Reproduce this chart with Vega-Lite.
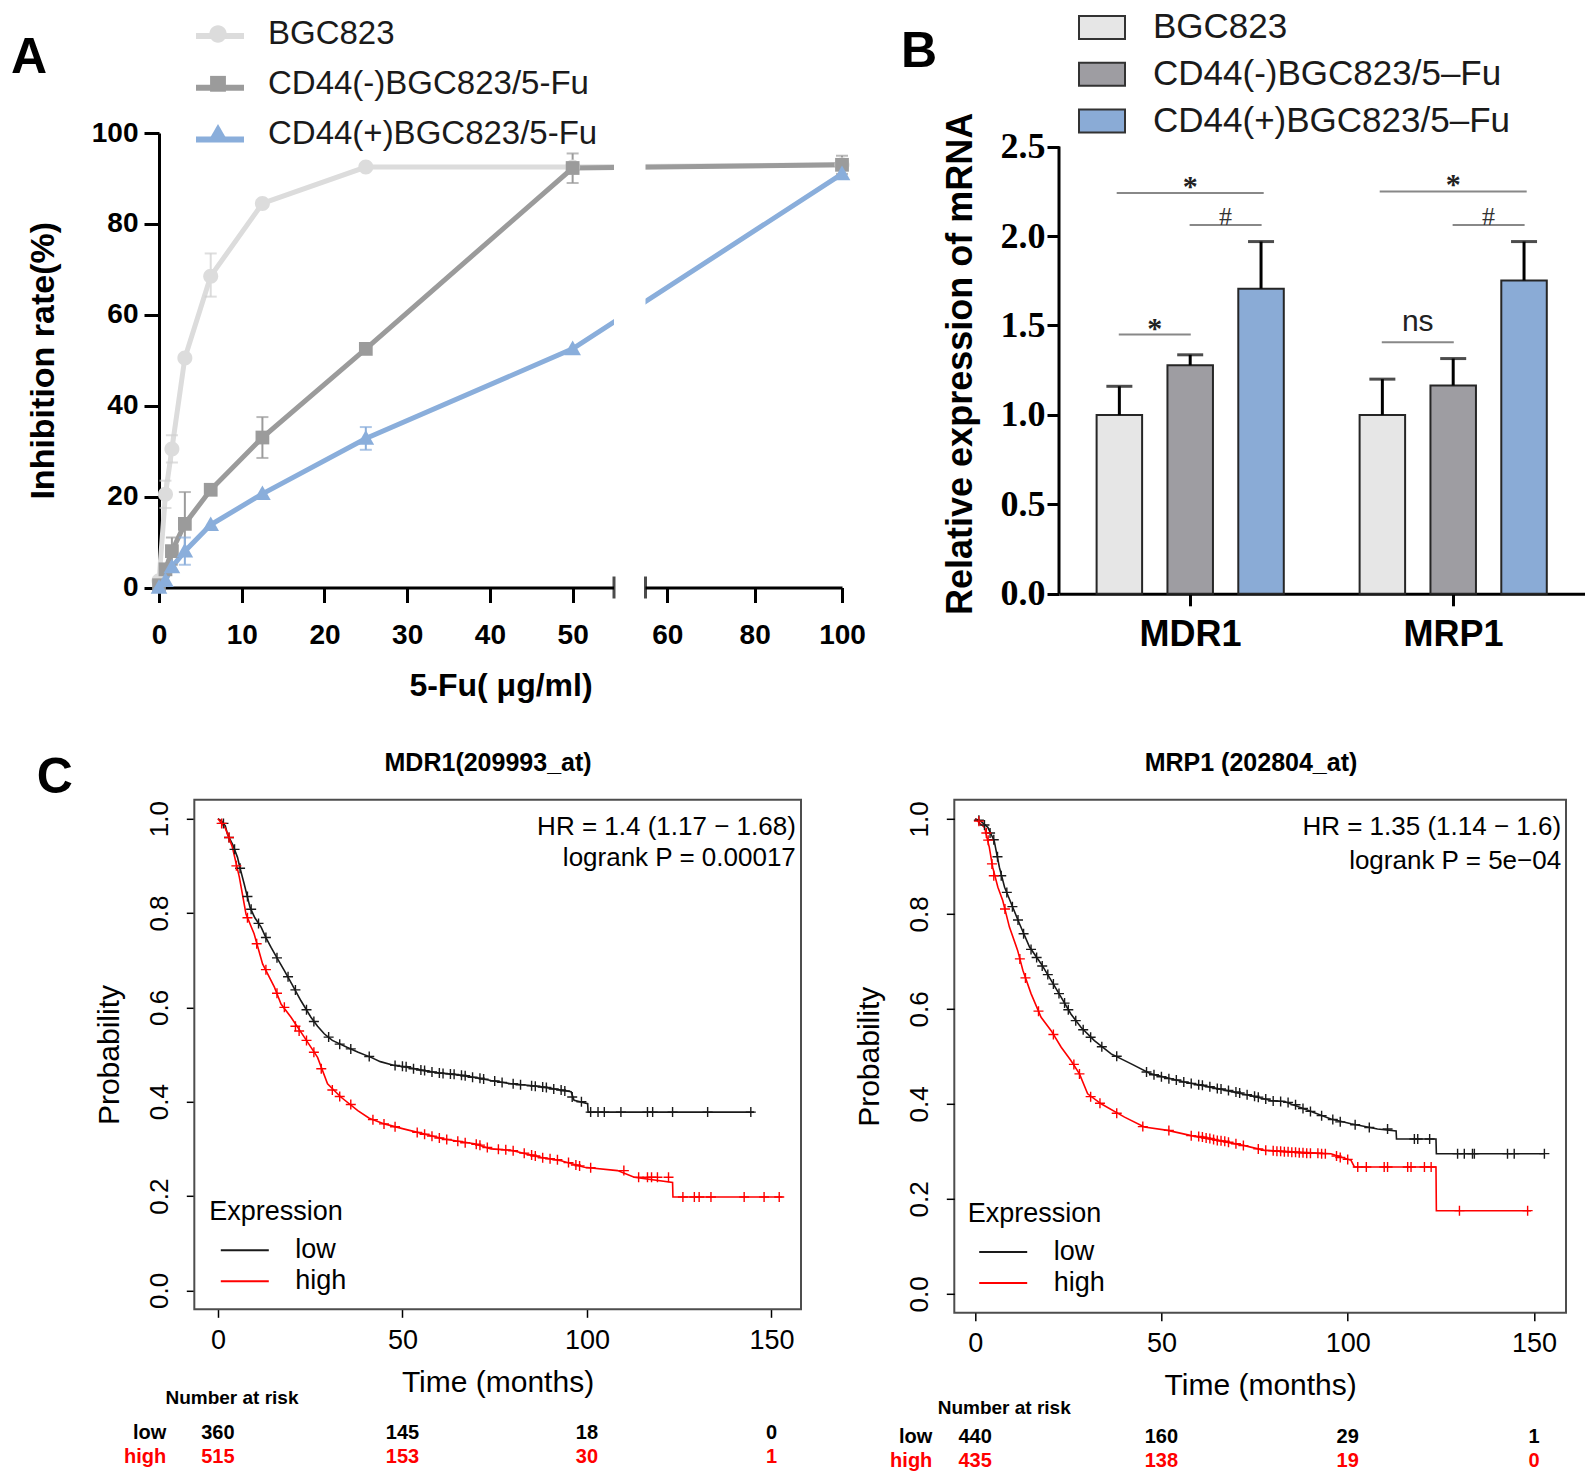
{
"$schema": "https://vega.github.io/schema/vega-lite/v6.json",
"background": "white",
"padding": {"left": 10, "top": 3, "right": 0, "bottom": 0},
"autosize": {"type": "pad"},
"config": {
  "view": {"stroke": null},
  "font": "Liberation Sans",
  "axis": {"grid": false, "domainColor": "black", "tickColor": "black", "labelColor": "black", "titleColor": "black", "labelFont": "Liberation Sans", "titleFont": "Liberation Sans"},
  "legend": {"labelColor": "black", "titleColor": "black", "labelFont": "Liberation Sans", "titleFont": "Liberation Sans"},
  "title": {"color": "black", "font": "Liberation Sans"}
},
"datasets": {
  "inhib": [
    {"series":"BGC823","conc":0,"rate":1.5},
    {"series":"BGC823","conc":0.78,"rate":20.5,"lo":17.5,"hi":23.5},
    {"series":"BGC823","conc":1.56,"rate":30.5,"lo":27.5,"hi":33.5},
    {"series":"BGC823","conc":3.125,"rate":50.5},
    {"series":"BGC823","conc":6.25,"rate":68.5,"lo":64,"hi":73.5},
    {"series":"BGC823","conc":12.5,"rate":84.5},
    {"series":"BGC823","conc":25,"rate":92.5},
    {"series":"BGC823","conc":50,"rate":92.5},
    {"series":"BGC823","conc":100,"rate":93},
    {"series":"CD44(-)BGC823/5-Fu","conc":0,"rate":0.5},
    {"series":"CD44(-)BGC823/5-Fu","conc":0.78,"rate":4},
    {"series":"CD44(-)BGC823/5-Fu","conc":1.56,"rate":8,"lo":5,"hi":11},
    {"series":"CD44(-)BGC823/5-Fu","conc":3.125,"rate":14,"lo":7,"hi":21},
    {"series":"CD44(-)BGC823/5-Fu","conc":6.25,"rate":21.5},
    {"series":"CD44(-)BGC823/5-Fu","conc":12.5,"rate":33,"lo":28.5,"hi":37.5},
    {"series":"CD44(-)BGC823/5-Fu","conc":25,"rate":52.5},
    {"series":"CD44(-)BGC823/5-Fu","conc":50,"rate":92.3,"lo":89,"hi":95.5},
    {"series":"CD44(-)BGC823/5-Fu","conc":100,"rate":93,"lo":91,"hi":95},
    {"series":"CD44(+)BGC823/5-Fu","conc":0,"rate":0},
    {"series":"CD44(+)BGC823/5-Fu","conc":0.78,"rate":1.5},
    {"series":"CD44(+)BGC823/5-Fu","conc":1.56,"rate":4.5},
    {"series":"CD44(+)BGC823/5-Fu","conc":3.125,"rate":8,"lo":5,"hi":11},
    {"series":"CD44(+)BGC823/5-Fu","conc":6.25,"rate":13.8},
    {"series":"CD44(+)BGC823/5-Fu","conc":12.5,"rate":20.6},
    {"series":"CD44(+)BGC823/5-Fu","conc":25,"rate":32.8,"lo":30.3,"hi":35.3},
    {"series":"CD44(+)BGC823/5-Fu","conc":50,"rate":52.5},
    {"series":"CD44(+)BGC823/5-Fu","conc":100,"rate":91}
  ],
  "breaks": [{"from":55,"to":55.001}],
  "letters": [{"letter":"A"},{"letter":"B"},{"letter":"C"}],
  "mrna": [
    {"gene":"MDR1","group":"BGC823","value":1.0,"hi":1.16},
    {"gene":"MDR1","group":"CD44(-)BGC823/5–Fu","value":1.278,"hi":1.336},
    {"gene":"MDR1","group":"CD44(+)BGC823/5–Fu","value":1.706,"hi":1.969},
    {"gene":"MRP1","group":"BGC823","value":1.0,"hi":1.2},
    {"gene":"MRP1","group":"CD44(-)BGC823/5–Fu","value":1.165,"hi":1.315},
    {"gene":"MRP1","group":"CD44(+)BGC823/5–Fu","value":1.752,"hi":1.969}
  ],
  "sig": [
    {"gene":"MDR1","at":"CD44(-)BGC823/5–Fu","y":2.241,"label":"*","span":"long"},
    {"gene":"MDR1","at":"m2","y":2.062,"label":"#","span":"short"},
    {"gene":"MDR1","at":"m1","y":1.449,"label":"*","span":"short"},
    {"gene":"MRP1","at":"CD44(-)BGC823/5–Fu","y":2.249,"label":"*","span":"long"},
    {"gene":"MRP1","at":"m2","y":2.062,"label":"#","span":"short"},
    {"gene":"MRP1","at":"m1","y":1.406,"label":"ns","span":"short"}
  ],
  "notes": [
    {"p":"MDR1","ttl":"MDR1(209993_at)","hr":"HR = 1.4 (1.17 − 1.68)","lr":"logrank P = 0.00017","nar":"Number at risk"},
    {"p":"MRP1","ttl":"MRP1 (202804_at)","hr":"HR = 1.35 (1.14 − 1.6)","lr":"logrank P = 5e−04","nar":"Number at risk"}
  ],
  "risk": [
    {"p":"MDR1","e":"low","t":0,"n":360},{"p":"MDR1","e":"low","t":50,"n":145},{"p":"MDR1","e":"low","t":100,"n":18},{"p":"MDR1","e":"low","t":150,"n":0},
    {"p":"MDR1","e":"high","t":0,"n":515},{"p":"MDR1","e":"high","t":50,"n":153},{"p":"MDR1","e":"high","t":100,"n":30},{"p":"MDR1","e":"high","t":150,"n":1},
    {"p":"MRP1","e":"low","t":0,"n":440},{"p":"MRP1","e":"low","t":50,"n":160},{"p":"MRP1","e":"low","t":100,"n":29},{"p":"MRP1","e":"low","t":150,"n":1},
    {"p":"MRP1","e":"high","t":0,"n":435},{"p":"MRP1","e":"high","t":50,"n":138},{"p":"MRP1","e":"high","t":100,"n":19},{"p":"MRP1","e":"high","t":150,"n":0}
  ],
  "km": [
    {"p":"MDR1","e":"low","t":0,"s":1},{"p":"MDR1","e":"low","t":1,"s":0.995},{"p":"MDR1","e":"low","t":2,"s":0.985},{"p":"MDR1","e":"low","t":2.6,"s":0.967},{"p":"MDR1","e":"low","t":4,"s":0.945},{"p":"MDR1","e":"low","t":5.3,"s":0.918},{"p":"MDR1","e":"low","t":6,"s":0.895},{"p":"MDR1","e":"low","t":7.1,"s":0.862},{"p":"MDR1","e":"low","t":8.7,"s":0.812},{"p":"MDR1","e":"low","t":10,"s":0.79},{"p":"MDR1","e":"low","t":11.7,"s":0.77},{"p":"MDR1","e":"low","t":13,"s":0.748},{"p":"MDR1","e":"low","t":14.4,"s":0.727},{"p":"MDR1","e":"low","t":16,"s":0.705},{"p":"MDR1","e":"low","t":18,"s":0.678},{"p":"MDR1","e":"low","t":20,"s":0.65},{"p":"MDR1","e":"low","t":22.5,"s":0.614},{"p":"MDR1","e":"low","t":25.2,"s":0.579},{"p":"MDR1","e":"low","t":27,"s":0.56},{"p":"MDR1","e":"low","t":28.8,"s":0.544},{"p":"MDR1","e":"low","t":31,"s":0.53},{"p":"MDR1","e":"low","t":35.1,"s":0.515},{"p":"MDR1","e":"low","t":38,"s":0.505},{"p":"MDR1","e":"low","t":41.5,"s":0.494},{"p":"MDR1","e":"low","t":44,"s":0.485},{"p":"MDR1","e":"low","t":47.8,"s":0.477},{"p":"MDR1","e":"low","t":52,"s":0.472},{"p":"MDR1","e":"low","t":55.9,"s":0.466},{"p":"MDR1","e":"low","t":60,"s":0.461},{"p":"MDR1","e":"low","t":65,"s":0.457},{"p":"MDR1","e":"low","t":70,"s":0.451},{"p":"MDR1","e":"low","t":74,"s":0.445},{"p":"MDR1","e":"low","t":79.4,"s":0.438},{"p":"MDR1","e":"low","t":84,"s":0.435},{"p":"MDR1","e":"low","t":88.4,"s":0.431},{"p":"MDR1","e":"low","t":92,"s":0.426},{"p":"MDR1","e":"low","t":95.7,"s":0.421},{"p":"MDR1","e":"low","t":96.5,"s":0.403},{"p":"MDR1","e":"low","t":100.2,"s":0.396},{"p":"MDR1","e":"low","t":100.3,"s":0.378},{"p":"MDR1","e":"low","t":145.3,"s":0.378},
    {"p":"MDR1","e":"high","t":0,"s":1},{"p":"MDR1","e":"high","t":2,"s":0.98},{"p":"MDR1","e":"high","t":3.9,"s":0.94},{"p":"MDR1","e":"high","t":5.8,"s":0.876},{"p":"MDR1","e":"high","t":7.6,"s":0.798},{"p":"MDR1","e":"high","t":9.8,"s":0.756},{"p":"MDR1","e":"high","t":12.1,"s":0.692},{"p":"MDR1","e":"high","t":15.3,"s":0.643},{"p":"MDR1","e":"high","t":17.1,"s":0.607},{"p":"MDR1","e":"high","t":19.8,"s":0.579},{"p":"MDR1","e":"high","t":23.4,"s":0.537},{"p":"MDR1","e":"high","t":27,"s":0.494},{"p":"MDR1","e":"high","t":29.7,"s":0.438},{"p":"MDR1","e":"high","t":33.3,"s":0.41},{"p":"MDR1","e":"high","t":37.9,"s":0.381},{"p":"MDR1","e":"high","t":41,"s":0.365},{"p":"MDR1","e":"high","t":45.1,"s":0.353},{"p":"MDR1","e":"high","t":50,"s":0.343},{"p":"MDR1","e":"high","t":54.1,"s":0.335},{"p":"MDR1","e":"high","t":61.3,"s":0.321},{"p":"MDR1","e":"high","t":69.5,"s":0.311},{"p":"MDR1","e":"high","t":74,"s":0.3},{"p":"MDR1","e":"high","t":79.4,"s":0.297},{"p":"MDR1","e":"high","t":87.5,"s":0.282},{"p":"MDR1","e":"high","t":93,"s":0.275},{"p":"MDR1","e":"high","t":99.3,"s":0.261},{"p":"MDR1","e":"high","t":108.3,"s":0.254},{"p":"MDR1","e":"high","t":112.8,"s":0.24},{"p":"MDR1","e":"high","t":123.2,"s":0.229},{"p":"MDR1","e":"high","t":123.3,"s":0.198},{"p":"MDR1","e":"high","t":153,"s":0.198},
    {"p":"MRP1","e":"low","t":0,"s":1},{"p":"MRP1","e":"low","t":1.5,"s":0.995},{"p":"MRP1","e":"low","t":3.4,"s":0.982},{"p":"MRP1","e":"low","t":5.1,"s":0.954},{"p":"MRP1","e":"low","t":6.5,"s":0.898},{"p":"MRP1","e":"low","t":7.9,"s":0.856},{"p":"MRP1","e":"low","t":9.7,"s":0.821},{"p":"MRP1","e":"low","t":11.9,"s":0.779},{"p":"MRP1","e":"low","t":14.6,"s":0.73},{"p":"MRP1","e":"low","t":17.7,"s":0.695},{"p":"MRP1","e":"low","t":20.4,"s":0.66},{"p":"MRP1","e":"low","t":23.1,"s":0.624},{"p":"MRP1","e":"low","t":25.7,"s":0.589},{"p":"MRP1","e":"low","t":28.4,"s":0.561},{"p":"MRP1","e":"low","t":32,"s":0.533},{"p":"MRP1","e":"low","t":36.5,"s":0.505},{"p":"MRP1","e":"low","t":41.9,"s":0.484},{"p":"MRP1","e":"low","t":47.2,"s":0.463},{"p":"MRP1","e":"low","t":56.2,"s":0.446},{"p":"MRP1","e":"low","t":65.1,"s":0.432},{"p":"MRP1","e":"low","t":74.1,"s":0.417},{"p":"MRP1","e":"low","t":79.4,"s":0.407},{"p":"MRP1","e":"low","t":83,"s":0.405},{"p":"MRP1","e":"low","t":88.4,"s":0.389},{"p":"MRP1","e":"low","t":95.5,"s":0.368},{"p":"MRP1","e":"low","t":100.9,"s":0.358},{"p":"MRP1","e":"low","t":108,"s":0.347},{"p":"MRP1","e":"low","t":113,"s":0.343},{"p":"MRP1","e":"low","t":113.1,"s":0.326},{"p":"MRP1","e":"low","t":123.7,"s":0.326},{"p":"MRP1","e":"low","t":123.8,"s":0.295},{"p":"MRP1","e":"low","t":152.8,"s":0.295},
    {"p":"MRP1","e":"high","t":0,"s":1},{"p":"MRP1","e":"high","t":2.5,"s":0.982},{"p":"MRP1","e":"high","t":3.8,"s":0.94},{"p":"MRP1","e":"high","t":4.7,"s":0.898},{"p":"MRP1","e":"high","t":6.1,"s":0.856},{"p":"MRP1","e":"high","t":7.4,"s":0.828},{"p":"MRP1","e":"high","t":9.2,"s":0.772},{"p":"MRP1","e":"high","t":11.4,"s":0.723},{"p":"MRP1","e":"high","t":12.8,"s":0.681},{"p":"MRP1","e":"high","t":15,"s":0.632},{"p":"MRP1","e":"high","t":17.7,"s":0.582},{"p":"MRP1","e":"high","t":20.4,"s":0.554},{"p":"MRP1","e":"high","t":23.1,"s":0.519},{"p":"MRP1","e":"high","t":25.7,"s":0.491},{"p":"MRP1","e":"high","t":28,"s":0.463},{"p":"MRP1","e":"high","t":30.2,"s":0.421},{"p":"MRP1","e":"high","t":33.8,"s":0.4},{"p":"MRP1","e":"high","t":40.1,"s":0.372},{"p":"MRP1","e":"high","t":45.4,"s":0.351},{"p":"MRP1","e":"high","t":51.7,"s":0.344},{"p":"MRP1","e":"high","t":58,"s":0.333},{"p":"MRP1","e":"high","t":65.1,"s":0.323},{"p":"MRP1","e":"high","t":72.3,"s":0.312},{"p":"MRP1","e":"high","t":77.6,"s":0.302},{"p":"MRP1","e":"high","t":95.5,"s":0.295},{"p":"MRP1","e":"high","t":100.9,"s":0.281},{"p":"MRP1","e":"high","t":101.8,"s":0.267},{"p":"MRP1","e":"high","t":123.7,"s":0.267},{"p":"MRP1","e":"high","t":123.8,"s":0.175},{"p":"MRP1","e":"high","t":149.2,"s":0.175}
  ],
  "cens": [
    {"p":"MDR1","e":"low","t":1.5,"s":0.99},{"p":"MDR1","e":"low","t":3,"s":0.96},{"p":"MDR1","e":"low","t":4.5,"s":0.935},{"p":"MDR1","e":"low","t":6,"s":0.895},{"p":"MDR1","e":"low","t":8,"s":0.835},{"p":"MDR1","e":"low","t":9,"s":0.808},{"p":"MDR1","e":"low","t":11,"s":0.778},{"p":"MDR1","e":"low","t":13,"s":0.748},{"p":"MDR1","e":"low","t":16,"s":0.705},{"p":"MDR1","e":"low","t":19,"s":0.665},{"p":"MDR1","e":"low","t":21,"s":0.637},{"p":"MDR1","e":"low","t":24,"s":0.595},{"p":"MDR1","e":"low","t":26,"s":0.57},{"p":"MDR1","e":"low","t":30,"s":0.537},{"p":"MDR1","e":"low","t":33,"s":0.522},{"p":"MDR1","e":"low","t":36,"s":0.512},{"p":"MDR1","e":"low","t":41,"s":0.496},{"p":"MDR1","e":"low","t":48,"s":0.477},{"p":"MDR1","e":"low","t":50,"s":0.475},{"p":"MDR1","e":"low","t":51,"s":0.474},{"p":"MDR1","e":"low","t":53,"s":0.47},{"p":"MDR1","e":"low","t":55,"s":0.467},{"p":"MDR1","e":"low","t":56,"s":0.466},{"p":"MDR1","e":"low","t":58,"s":0.463},{"p":"MDR1","e":"low","t":60,"s":0.461},{"p":"MDR1","e":"low","t":61,"s":0.46},{"p":"MDR1","e":"low","t":63,"s":0.459},{"p":"MDR1","e":"low","t":64,"s":0.458},{"p":"MDR1","e":"low","t":66,"s":0.456},{"p":"MDR1","e":"low","t":67,"s":0.455},{"p":"MDR1","e":"low","t":69,"s":0.452},{"p":"MDR1","e":"low","t":71,"s":0.45},{"p":"MDR1","e":"low","t":72,"s":0.448},{"p":"MDR1","e":"low","t":75,"s":0.444},{"p":"MDR1","e":"low","t":77,"s":0.441},{"p":"MDR1","e":"low","t":80,"s":0.438},{"p":"MDR1","e":"low","t":82,"s":0.436},{"p":"MDR1","e":"low","t":85,"s":0.434},{"p":"MDR1","e":"low","t":86,"s":0.433},{"p":"MDR1","e":"low","t":88,"s":0.431},{"p":"MDR1","e":"low","t":89,"s":0.43},{"p":"MDR1","e":"low","t":91,"s":0.427},{"p":"MDR1","e":"low","t":93,"s":0.425},{"p":"MDR1","e":"low","t":94,"s":0.423},{"p":"MDR1","e":"low","t":96,"s":0.41},{"p":"MDR1","e":"low","t":98.5,"s":0.4},{"p":"MDR1","e":"low","t":101,"s":0.378},{"p":"MDR1","e":"low","t":103,"s":0.378},{"p":"MDR1","e":"low","t":104.7,"s":0.378},{"p":"MDR1","e":"low","t":109.2,"s":0.378},{"p":"MDR1","e":"low","t":116.4,"s":0.378},{"p":"MDR1","e":"low","t":117.8,"s":0.378},{"p":"MDR1","e":"low","t":123.2,"s":0.378},{"p":"MDR1","e":"low","t":132.7,"s":0.378},{"p":"MDR1","e":"low","t":144.4,"s":0.378},
    {"p":"MDR1","e":"high","t":1,"s":0.99},{"p":"MDR1","e":"high","t":3,"s":0.96},{"p":"MDR1","e":"high","t":5,"s":0.9},{"p":"MDR1","e":"high","t":8,"s":0.79},{"p":"MDR1","e":"high","t":10.5,"s":0.735},{"p":"MDR1","e":"high","t":13,"s":0.68},{"p":"MDR1","e":"high","t":16,"s":0.63},{"p":"MDR1","e":"high","t":18,"s":0.6},{"p":"MDR1","e":"high","t":21,"s":0.56},{"p":"MDR1","e":"high","t":22,"s":0.55},{"p":"MDR1","e":"high","t":24,"s":0.53},{"p":"MDR1","e":"high","t":26,"s":0.505},{"p":"MDR1","e":"high","t":28,"s":0.47},{"p":"MDR1","e":"high","t":31,"s":0.425},{"p":"MDR1","e":"high","t":33,"s":0.411},{"p":"MDR1","e":"high","t":36,"s":0.394},{"p":"MDR1","e":"high","t":42,"s":0.362},{"p":"MDR1","e":"high","t":45,"s":0.353},{"p":"MDR1","e":"high","t":48,"s":0.347},{"p":"MDR1","e":"high","t":54,"s":0.335},{"p":"MDR1","e":"high","t":56,"s":0.331},{"p":"MDR1","e":"high","t":58,"s":0.327},{"p":"MDR1","e":"high","t":60,"s":0.323},{"p":"MDR1","e":"high","t":62,"s":0.32},{"p":"MDR1","e":"high","t":65,"s":0.316},{"p":"MDR1","e":"high","t":67,"s":0.313},{"p":"MDR1","e":"high","t":70,"s":0.31},{"p":"MDR1","e":"high","t":71,"s":0.308},{"p":"MDR1","e":"high","t":73,"s":0.303},{"p":"MDR1","e":"high","t":76,"s":0.299},{"p":"MDR1","e":"high","t":78,"s":0.298},{"p":"MDR1","e":"high","t":80,"s":0.296},{"p":"MDR1","e":"high","t":83,"s":0.291},{"p":"MDR1","e":"high","t":85,"s":0.287},{"p":"MDR1","e":"high","t":86,"s":0.285},{"p":"MDR1","e":"high","t":88,"s":0.281},{"p":"MDR1","e":"high","t":90,"s":0.279},{"p":"MDR1","e":"high","t":92,"s":0.277},{"p":"MDR1","e":"high","t":95,"s":0.271},{"p":"MDR1","e":"high","t":97,"s":0.266},{"p":"MDR1","e":"high","t":98,"s":0.264},{"p":"MDR1","e":"high","t":101,"s":0.26},{"p":"MDR1","e":"high","t":110,"s":0.254},{"p":"MDR1","e":"high","t":114,"s":0.24},{"p":"MDR1","e":"high","t":116.4,"s":0.24},{"p":"MDR1","e":"high","t":117.5,"s":0.24},{"p":"MDR1","e":"high","t":119.1,"s":0.24},{"p":"MDR1","e":"high","t":122.1,"s":0.24},{"p":"MDR1","e":"high","t":126,"s":0.198},{"p":"MDR1","e":"high","t":129.1,"s":0.198},{"p":"MDR1","e":"high","t":130.4,"s":0.198},{"p":"MDR1","e":"high","t":133.6,"s":0.198},{"p":"MDR1","e":"high","t":142.6,"s":0.198},{"p":"MDR1","e":"high","t":148,"s":0.198},{"p":"MDR1","e":"high","t":152.1,"s":0.198},
    {"p":"MRP1","e":"low","t":1,"s":0.997},{"p":"MRP1","e":"low","t":2.5,"s":0.987},{"p":"MRP1","e":"low","t":4,"s":0.97},{"p":"MRP1","e":"low","t":5,"s":0.956},{"p":"MRP1","e":"low","t":6,"s":0.92},{"p":"MRP1","e":"low","t":7,"s":0.88},{"p":"MRP1","e":"low","t":8.5,"s":0.845},{"p":"MRP1","e":"low","t":10,"s":0.815},{"p":"MRP1","e":"low","t":11.5,"s":0.787},{"p":"MRP1","e":"low","t":13,"s":0.758},{"p":"MRP1","e":"low","t":15,"s":0.725},{"p":"MRP1","e":"low","t":16.5,"s":0.708},{"p":"MRP1","e":"low","t":18,"s":0.69},{"p":"MRP1","e":"low","t":19.5,"s":0.672},{"p":"MRP1","e":"low","t":21,"s":0.652},{"p":"MRP1","e":"low","t":22.5,"s":0.632},{"p":"MRP1","e":"low","t":24,"s":0.612},{"p":"MRP1","e":"low","t":25,"s":0.598},{"p":"MRP1","e":"low","t":27,"s":0.575},{"p":"MRP1","e":"low","t":29,"s":0.556},{"p":"MRP1","e":"low","t":31,"s":0.54},{"p":"MRP1","e":"low","t":34,"s":0.52},{"p":"MRP1","e":"low","t":38,"s":0.5},{"p":"MRP1","e":"low","t":46,"s":0.467},{"p":"MRP1","e":"low","t":48,"s":0.461},{"p":"MRP1","e":"low","t":50,"s":0.457},{"p":"MRP1","e":"low","t":52,"s":0.453},{"p":"MRP1","e":"low","t":54,"s":0.45},{"p":"MRP1","e":"low","t":56,"s":0.446},{"p":"MRP1","e":"low","t":58,"s":0.443},{"p":"MRP1","e":"low","t":60,"s":0.44},{"p":"MRP1","e":"low","t":61,"s":0.439},{"p":"MRP1","e":"low","t":63,"s":0.436},{"p":"MRP1","e":"low","t":65,"s":0.432},{"p":"MRP1","e":"low","t":66,"s":0.431},{"p":"MRP1","e":"low","t":68,"s":0.428},{"p":"MRP1","e":"low","t":70,"s":0.425},{"p":"MRP1","e":"low","t":71,"s":0.423},{"p":"MRP1","e":"low","t":73,"s":0.419},{"p":"MRP1","e":"low","t":75,"s":0.416},{"p":"MRP1","e":"low","t":76,"s":0.414},{"p":"MRP1","e":"low","t":78,"s":0.41},{"p":"MRP1","e":"low","t":80,"s":0.406},{"p":"MRP1","e":"low","t":82,"s":0.405},{"p":"MRP1","e":"low","t":84,"s":0.403},{"p":"MRP1","e":"low","t":86,"s":0.398},{"p":"MRP1","e":"low","t":88,"s":0.39},{"p":"MRP1","e":"low","t":90,"s":0.384},{"p":"MRP1","e":"low","t":93,"s":0.375},{"p":"MRP1","e":"low","t":96,"s":0.367},{"p":"MRP1","e":"low","t":98,"s":0.362},{"p":"MRP1","e":"low","t":102,"s":0.356},{"p":"MRP1","e":"low","t":105.8,"s":0.35},{"p":"MRP1","e":"low","t":110.7,"s":0.347},{"p":"MRP1","e":"low","t":117.9,"s":0.326},{"p":"MRP1","e":"low","t":118.8,"s":0.326},{"p":"MRP1","e":"low","t":122,"s":0.326},{"p":"MRP1","e":"low","t":129.5,"s":0.295},{"p":"MRP1","e":"low","t":131.3,"s":0.295},{"p":"MRP1","e":"low","t":133.5,"s":0.295},{"p":"MRP1","e":"low","t":134,"s":0.295},{"p":"MRP1","e":"low","t":142.9,"s":0.295},{"p":"MRP1","e":"low","t":144.7,"s":0.295},{"p":"MRP1","e":"low","t":152.8,"s":0.295},
    {"p":"MRP1","e":"high","t":1,"s":0.995},{"p":"MRP1","e":"high","t":3,"s":0.97},{"p":"MRP1","e":"high","t":3.5,"s":0.955},{"p":"MRP1","e":"high","t":4.5,"s":0.905},{"p":"MRP1","e":"high","t":5,"s":0.88},{"p":"MRP1","e":"high","t":8,"s":0.81},{"p":"MRP1","e":"high","t":12,"s":0.705},{"p":"MRP1","e":"high","t":13.5,"s":0.665},{"p":"MRP1","e":"high","t":17,"s":0.595},{"p":"MRP1","e":"high","t":21,"s":0.546},{"p":"MRP1","e":"high","t":26.5,"s":0.483},{"p":"MRP1","e":"high","t":28,"s":0.463},{"p":"MRP1","e":"high","t":31,"s":0.415},{"p":"MRP1","e":"high","t":33.5,"s":0.401},{"p":"MRP1","e":"high","t":38,"s":0.38},{"p":"MRP1","e":"high","t":45,"s":0.352},{"p":"MRP1","e":"high","t":52,"s":0.344},{"p":"MRP1","e":"high","t":58,"s":0.333},{"p":"MRP1","e":"high","t":60,"s":0.331},{"p":"MRP1","e":"high","t":61,"s":0.33},{"p":"MRP1","e":"high","t":62,"s":0.328},{"p":"MRP1","e":"high","t":63,"s":0.327},{"p":"MRP1","e":"high","t":64,"s":0.325},{"p":"MRP1","e":"high","t":65,"s":0.323},{"p":"MRP1","e":"high","t":66,"s":0.322},{"p":"MRP1","e":"high","t":67,"s":0.321},{"p":"MRP1","e":"high","t":68,"s":0.319},{"p":"MRP1","e":"high","t":70,"s":0.316},{"p":"MRP1","e":"high","t":72,"s":0.312},{"p":"MRP1","e":"high","t":76,"s":0.305},{"p":"MRP1","e":"high","t":78,"s":0.302},{"p":"MRP1","e":"high","t":80,"s":0.301},{"p":"MRP1","e":"high","t":81,"s":0.3},{"p":"MRP1","e":"high","t":82,"s":0.3},{"p":"MRP1","e":"high","t":83,"s":0.299},{"p":"MRP1","e":"high","t":84,"s":0.299},{"p":"MRP1","e":"high","t":85,"s":0.298},{"p":"MRP1","e":"high","t":86,"s":0.298},{"p":"MRP1","e":"high","t":87,"s":0.297},{"p":"MRP1","e":"high","t":88,"s":0.297},{"p":"MRP1","e":"high","t":89,"s":0.296},{"p":"MRP1","e":"high","t":90,"s":0.296},{"p":"MRP1","e":"high","t":92,"s":0.296},{"p":"MRP1","e":"high","t":93,"s":0.295},{"p":"MRP1","e":"high","t":94,"s":0.295},{"p":"MRP1","e":"high","t":97,"s":0.29},{"p":"MRP1","e":"high","t":98,"s":0.287},{"p":"MRP1","e":"high","t":100,"s":0.283},{"p":"MRP1","e":"high","t":102.7,"s":0.267},{"p":"MRP1","e":"high","t":105,"s":0.267},{"p":"MRP1","e":"high","t":109.8,"s":0.267},{"p":"MRP1","e":"high","t":110.7,"s":0.267},{"p":"MRP1","e":"high","t":116.1,"s":0.267},{"p":"MRP1","e":"high","t":117,"s":0.267},{"p":"MRP1","e":"high","t":120.6,"s":0.267},{"p":"MRP1","e":"high","t":122.4,"s":0.267},{"p":"MRP1","e":"high","t":130,"s":0.175},{"p":"MRP1","e":"high","t":148.3,"s":0.175}
  ]
},
"spacing": 666.8,
"bounds": "flush",
"resolve": {"scale": {"color": "independent", "fill": "independent", "stroke": "independent", "shape": "independent"}, "legend": {"color": "independent", "fill": "independent", "stroke": "independent", "shape": "independent"}},
"vconcat": [
 {"hconcat": [
  {
   "width": 683, "height": 454.5,
   "layer": [
     {"data": {"name": "inhib"},
      "mark": {"type": "line", "strokeWidth": 5},
      "encoding": {
        "x": {"field": "conc", "type": "quantitative",
          "scale": {"domain": [0, 55, 55.001, 100], "range": [0, 455, 486.5, 683], "nice": false, "zero": false},
          "axis": {"values": [0,10,20,30,40,50,60,80,100], "labelFontSize": 28, "labelFontWeight": "bold", "labelPadding": 19, "tickSize": 15, "tickWidth": 3, "domainWidth": 3, "labelFlush": false, "labelOverlap": false, "title": "5-Fu( μg/ml)", "titleFontSize": 32, "titleFontWeight": "bold", "titlePadding": 21}},
        "y": {"field": "rate", "type": "quantitative",
          "scale": {"domain": [0, 100], "nice": false},
          "axis": {"values": [0,20,40,60,80,100], "labelFontSize": 28, "labelFontWeight": "bold", "labelPadding": 6, "tickSize": 15, "tickWidth": 3, "domainWidth": 3, "labelFlush": false, "labelOverlap": false, "title": "Inhibition rate(%)", "titleFontSize": 34, "titleFontWeight": "bold", "titlePadding": 31}},
        "stroke": {"field": "series", "type": "nominal", "scale": {"domain": ["BGC823","CD44(-)BGC823/5-Fu","CD44(+)BGC823/5-Fu","_"], "range": ["#dcdcdc","#9b9b9b","#8aaedb","#ffffff"]},
          "legend": {"title": null, "orient": "none", "legendX": 34, "legendY": -124, "values": ["BGC823","CD44(-)BGC823/5-Fu","CD44(+)BGC823/5-Fu"], "symbolType": "stroke", "symbolSize": 2304, "symbolStrokeWidth": 6, "labelFontSize": 33, "labelExpr": "' '", "labelOffset": 25, "rowPadding": 7.8, "labelLimit": 0}}}},
     {"data": {"name": "inhib"},
      "mark": {"type": "rule", "strokeWidth": 2},
      "encoding": {"x": {"field": "conc", "type": "quantitative"}, "y": {"field": "lo", "type": "quantitative"}, "y2": {"field": "hi"},
        "stroke": {"field": "series", "type": "nominal"}}},
     {"data": {"name": "inhib"},
      "mark": {"type": "tick", "orient": "horizontal", "size": 12, "thickness": 2},
      "encoding": {"x": {"field": "conc", "type": "quantitative"}, "y": {"field": "hi", "type": "quantitative"},
        "fill": {"field": "series", "type": "nominal", "scale": {"domain": ["BGC823","CD44(-)BGC823/5-Fu","CD44(+)BGC823/5-Fu","__"], "range": ["#d0d0d0","#9b9b9b","#8aaedb","#ffffff"]}, "legend": null}}},
     {"data": {"name": "inhib"},
      "mark": {"type": "tick", "orient": "horizontal", "size": 12, "thickness": 2},
      "encoding": {"x": {"field": "conc", "type": "quantitative"}, "y": {"field": "lo", "type": "quantitative"},
        "fill": {"field": "series", "type": "nominal", "legend": null}}},
     {"data": {"name": "inhib"},
      "mark": {"type": "point", "filled": true, "size": 1736, "opacity": 1},
      "encoding": {
        "x": {"field": "conc", "type": "quantitative"}, "y": {"field": "rate", "type": "quantitative"},
        "color": {"field": "series", "type": "nominal", "scale": {"domain": ["BGC823","CD44(-)BGC823/5-Fu","CD44(+)BGC823/5-Fu"], "range": ["#dcdcdc","#9b9b9b","#8aaedb"]},
          "legend": {"title": null, "orient": "none", "legendX": 34, "legendY": -124, "symbolSize": 2304, "labelFontSize": 33, "labelColor": "#1a1a1a", "labelOffset": 25, "rowPadding": 7.8, "labelLimit": 0}},
        "shape": {"field": "series", "type": "nominal", "scale": {"domain": ["BGC823","CD44(-)BGC823/5-Fu","CD44(+)BGC823/5-Fu"], "range": ["M0,-0.36A0.36,0.36 0 1,1 0,0.36A0.36,0.36 0 1,1 0,-0.36Z","M-0.33,-0.33H0.33V0.33H-0.33Z","M0,-0.4L0.4,0.3H-0.4Z"]},
          "legend": {"title": null, "orient": "none", "legendX": 34, "legendY": -124, "symbolSize": 2304, "labelFontSize": 33, "labelColor": "#1a1a1a", "labelOffset": 25, "rowPadding": 7.8, "labelLimit": 0}}
      }},
     {"data": {"name": "breaks"},
      "mark": {"type": "rect", "fill": "white"},
      "encoding": {"x": {"field": "from", "type": "quantitative"}, "x2": {"field": "to"}, "y": {"datum": -5, "type": "quantitative"}, "y2": {"datum": 101}}},
     {"data": {"name": "breaks"},
      "mark": {"type": "tick", "orient": "vertical", "size": 22, "thickness": 3, "color": "black"},
      "encoding": {"x": {"field": "from", "type": "quantitative"}, "y": {"datum": 0, "type": "quantitative"}}},
     {"data": {"name": "breaks"},
      "mark": {"type": "tick", "orient": "vertical", "size": 22, "thickness": 3, "color": "black"},
      "encoding": {"x": {"field": "to", "type": "quantitative"}, "y": {"datum": 0, "type": "quantitative"}}},
     {"data": {"name": "letters"}, "transform": [{"filter": "datum.letter === 'A'"}],
      "mark": {"type": "text", "fontSize": 50, "fontWeight": "bold", "align": "left", "baseline": "middle", "color": "black"},
      "encoding": {"x": {"datum": -17.9, "type": "quantitative"}, "y": {"datum": 116.4, "type": "quantitative"}, "text": {"field": "letter"}}},
     {"data": {"name": "letters"}, "transform": [{"filter": "datum.letter === 'B'"}],
      "mark": {"type": "text", "fontSize": 50, "fontWeight": "bold", "align": "left", "baseline": "middle", "color": "black"},
      "encoding": {"x": {"datum": 113.5, "type": "quantitative"}, "y": {"datum": 117.9, "type": "quantitative"}, "text": {"field": "letter"}}}
   ]
  },
  {
   "width": 526, "height": 460.8,
   "layer": [
     {"data": {"name": "mrna"},
      "mark": {"type": "bar", "width": 45.5, "stroke": "#262626", "strokeWidth": 2},
      "encoding": {
        "x": {"field": "gene", "type": "nominal", "scale": {"domain": ["MDR1","MRP1"], "paddingInner": 0, "paddingOuter": 0},
          "axis": {"title": null, "labelAngle": 0, "labelFontSize": 36, "labelFontWeight": "bold", "labelPadding": 12, "tickSize": 12, "tickWidth": 3, "domainWidth": 3}},
        "xOffset": {"field": "group", "type": "nominal", "scale": {"domain": ["BGC823","m1","CD44(-)BGC823/5–Fu","m2","CD44(+)BGC823/5–Fu"], "range": [42.65, 219.75], "paddingInner": 0, "paddingOuter": 0}},
        "y": {"field": "value", "type": "quantitative", "scale": {"domain": [0, 2.576], "nice": false},
          "axis": {"values": [0,0.5,1,1.5,2,2.5], "format": ".1f", "labelFont": "Liberation Serif", "labelFontSize": 36, "labelFontWeight": "bold", "labelPadding": 2, "tickSize": 12, "tickWidth": 3, "domain": false, "labelFlush": false, "labelOverlap": false, "title": "Relative expression of mRNA", "titleFontSize": 36, "titleFontWeight": "bold", "titlePadding": 21}},
        "fill": {"field": "group", "type": "nominal", "scale": {"domain": ["BGC823","CD44(-)BGC823/5–Fu","CD44(+)BGC823/5–Fu"], "range": ["#e6e6e6","#9e9da2","#8aabd6"]},
          "legend": {"title": null, "orient": "none", "legendX": 19, "legendY": -129.6, "symbolType": "M-1,-0.5H1V0.5H-1Z", "symbolSize": 2116, "symbolStrokeColor": "#333333", "symbolStrokeWidth": 2, "labelFontSize": 35, "labelOffset": 27, "rowPadding": 4.8, "labelLimit": 0, "labelColor": "#1a1a1a"}}
      }},
     {"data": {"name": "mrna"},
      "mark": {"type": "rule", "strokeWidth": 3, "color": "black"},
      "encoding": {"x": {"field": "gene", "type": "nominal"}, "xOffset": {"field": "group", "type": "nominal"}, "y": {"field": "value", "type": "quantitative"}, "y2": {"field": "hi"}}},
     {"data": {"name": "mrna"},
      "mark": {"type": "tick", "orient": "horizontal", "size": 26, "thickness": 3, "color": "black"},
      "encoding": {"x": {"field": "gene", "type": "nominal"}, "xOffset": {"field": "group", "type": "nominal"}, "y": {"field": "hi", "type": "quantitative"}}},
     {"data": {"name": "sig"}, "transform": [{"filter": "datum.span === 'long'"}],
      "mark": {"type": "tick", "orient": "horizontal", "size": 147, "thickness": 2, "color": "#555555"},
      "encoding": {"x": {"field": "gene", "type": "nominal"}, "xOffset": {"field": "at", "type": "nominal"}, "y": {"field": "y", "type": "quantitative"}}},
     {"data": {"name": "sig"}, "transform": [{"filter": "datum.span === 'short'"}],
      "mark": {"type": "tick", "orient": "horizontal", "size": 72, "thickness": 2, "color": "#555555"},
      "encoding": {"x": {"field": "gene", "type": "nominal"}, "xOffset": {"field": "at", "type": "nominal"}, "y": {"field": "y", "type": "quantitative"}}},
     {"data": {"name": "sig"}, "transform": [{"filter": "datum.label === '*'"}],
      "mark": {"type": "text", "font": "Liberation Serif", "fontSize": 30, "fontWeight": "bold", "baseline": "alphabetic", "dy": 3, "color": "#222222"},
      "encoding": {"x": {"field": "gene", "type": "nominal"}, "xOffset": {"field": "at", "type": "nominal"}, "y": {"field": "y", "type": "quantitative"}, "text": {"field": "label"}}},
     {"data": {"name": "sig"}, "transform": [{"filter": "datum.label === '#'"}],
      "mark": {"type": "text", "font": "Liberation Serif", "fontSize": 26, "baseline": "alphabetic", "dy": 0, "color": "#333333"},
      "encoding": {"x": {"field": "gene", "type": "nominal"}, "xOffset": {"field": "at", "type": "nominal"}, "y": {"field": "y", "type": "quantitative"}, "text": {"field": "label"}}},
     {"data": {"name": "sig"}, "transform": [{"filter": "datum.label === 'ns'"}],
      "mark": {"type": "text", "fontSize": 30, "baseline": "alphabetic", "dy": -11, "color": "#222222"},
      "encoding": {"x": {"field": "gene", "type": "nominal"}, "xOffset": {"field": "at", "type": "nominal"}, "y": {"field": "y", "type": "quantitative"}, "text": {"field": "label"}}},
     {"data": {"name": "mrna"}, "transform": [{"filter": "datum.gene === 'MDR1' && datum.group === 'BGC823'"}],
      "mark": {"type": "rule", "strokeWidth": 3, "color": "black"},
      "encoding": {"x": {"datum": "MDR1", "type": "nominal", "bandPosition": 0}, "y": {"datum": 0, "type": "quantitative"}, "y2": {"datum": 2.5}}}
   ]
  }
 ], "spacing": 217, "bounds": "flush",
 "resolve": {"scale": {"color": "independent", "fill": "independent", "stroke": "independent", "shape": "independent"}, "legend": {"color": "independent", "fill": "independent", "stroke": "independent", "shape": "independent"}}},
 {"hconcat": [
  {
   "width": 642, "height": 509.5,
   "layer": [
     {"data": {"name": "km"}, "transform": [{"filter": "datum.p === 'MDR1'"}],
      "mark": {"type": "line", "strokeWidth": 1.6, "clip": true},
      "encoding": {
        "x": {"field": "t", "type": "quantitative", "scale": {"domain": [-15.97, 158], "nice": false, "zero": false},
          "axis": {"values": [0,50,100,150], "title": "Time (months)", "titleFontSize": 30, "titleFontWeight": "normal", "titlePadding": 14, "titleX": 338.5, "labelFontSize": 27, "labelPadding": 10, "tickSize": 8, "tickWidth": 1.5, "domain": false, "labelFlush": false, "labelOverlap": false}},
        "y": {"field": "s", "type": "quantitative", "scale": {"domain": [-0.04, 1.04], "nice": false, "zero": false},
          "axis": {"offset": -35.3, "values": [0,0.2,0.4,0.6,0.8,1], "format": ".1f", "labelAngle": -90, "labelAlign": "center", "labelBaseline": "bottom", "labelFontSize": 26, "labelPadding": 14, "tickSize": 8, "tickWidth": 1.5, "domain": false, "labelFlush": false, "labelOverlap": false, "title": "Probability", "titleFontSize": 30, "titleFontWeight": "normal", "titlePadding": 22}},
        "stroke": {"field": "e", "type": "nominal", "scale": {"domain": ["low","high"], "range": ["#1a1a1a","#ff0000"]},
          "legend": {"title": "Expression", "orient": "none", "legendX": 50.3, "legendY": 399, "symbolType": "M-2,0H2", "symbolSize": 576, "symbolStrokeWidth": 2, "symbolFillColor": "transparent", "symbolOffset": 22, "labelOffset": 37, "labelFontSize": 27, "titleFontSize": 27, "titleFontWeight": "normal", "titlePadding": 11, "rowPadding": 3}}
      }},
     {"data": {"name": "notes"}, "transform": [{"filter": "datum.p === 'MDR1'"}],
      "mark": {"type": "rect", "filled": false, "stroke": "#4d4d4d", "strokeWidth": 2},
      "encoding": {"x": {"datum": -6.4}, "x2": {"datum": 158}, "y": {"datum": -0.04}, "y2": {"datum": 1.04}}},
     {"data": {"name": "cens"}, "transform": [{"filter": "datum.p === 'MDR1'"}],
      "mark": {"type": "point", "shape": "M-1,0H1M0,-1V1", "size": 100, "strokeWidth": 1.4, "filled": false, "opacity": 1, "clip": true},
      "encoding": {"x": {"field": "t", "type": "quantitative"}, "y": {"field": "s", "type": "quantitative"},
        "color": {"field": "e", "type": "nominal", "scale": {"domain": ["low","high"], "range": ["#1a1a1a","#ff0000"]}, "legend": null}}},
     {"data": {"name": "notes"}, "transform": [{"filter": "datum.p === 'MDR1'"}],
      "mark": {"type": "text", "align": "center", "baseline": "middle", "fontSize": 25, "fontWeight": "bold", "color": "black"},
      "encoding": {"x": {"datum": 73.2}, "y": {"datum": 1.119}, "text": {"field": "ttl"}}},
     {"data": {"name": "notes"}, "transform": [{"filter": "datum.p === 'MDR1'"}],
      "mark": {"type": "text", "align": "right", "baseline": "middle", "fontSize": 26, "color": "black"},
      "encoding": {"x": {"datum": 156.6}, "y": {"datum": 0.982}, "text": {"field": "hr"}}},
     {"data": {"name": "notes"}, "transform": [{"filter": "datum.p === 'MDR1'"}],
      "mark": {"type": "text", "align": "right", "baseline": "middle", "fontSize": 26, "color": "black"},
      "encoding": {"x": {"datum": 156.6}, "y": {"datum": 0.916}, "text": {"field": "lr"}}},
     {"data": {"name": "notes"}, "transform": [{"filter": "datum.p === 'MDR1'"}],
      "mark": {"type": "text", "align": "center", "baseline": "middle", "fontSize": 19, "fontWeight": "bold", "color": "black"},
      "encoding": {"x": {"datum": 3.8}, "y": {"datum": -0.227}, "text": {"field": "nar"}}},
     {"data": {"name": "letters"}, "transform": [{"filter": "datum.letter === 'C'"}],
      "mark": {"type": "text", "fontSize": 50, "fontWeight": "bold", "align": "left", "baseline": "middle", "color": "black"},
      "encoding": {"x": {"datum": -49.1}, "y": {"datum": 1.086}, "text": {"field": "letter"}}},
     {"data": {"name": "risk"}, "transform": [{"filter": "datum.p === 'MDR1' && datum.e === 'low'"}],
      "mark": {"type": "text", "align": "center", "baseline": "middle", "fontSize": 20, "fontWeight": "bold", "color": "black"},
      "encoding": {"x": {"field": "t", "type": "quantitative"}, "y": {"datum": -0.303}, "text": {"field": "n"}}},
     {"data": {"name": "risk"}, "transform": [{"filter": "datum.p === 'MDR1' && datum.e === 'high'"}],
      "mark": {"type": "text", "align": "center", "baseline": "middle", "fontSize": 20, "fontWeight": "bold", "color": "#ff0000"},
      "encoding": {"x": {"field": "t", "type": "quantitative"}, "y": {"datum": -0.354}, "text": {"field": "n"}}},
     {"data": {"name": "risk"}, "transform": [{"filter": "datum.p === 'MDR1' && datum.e === 'low' && datum.t === 0"}],
      "mark": {"type": "text", "align": "right", "baseline": "middle", "fontSize": 20, "fontWeight": "bold", "color": "black"},
      "encoding": {"x": {"datum": -14}, "y": {"datum": -0.303}, "text": {"field": "e"}}},
     {"data": {"name": "risk"}, "transform": [{"filter": "datum.p === 'MDR1' && datum.e === 'high' && datum.t === 0"}],
      "mark": {"type": "text", "align": "right", "baseline": "middle", "fontSize": 20, "fontWeight": "bold", "color": "#ff0000"},
      "encoding": {"x": {"datum": -14}, "y": {"datum": -0.354}, "text": {"field": "e"}}}
   ]
  },
  {
   "width": 611.7, "height": 513,
   "view": {"stroke": "#4d4d4d", "strokeWidth": 2},
   "layer": [
     {"data": {"name": "km"}, "transform": [{"filter": "datum.p === 'MRP1'"}],
      "mark": {"type": "line", "strokeWidth": 1.6, "clip": true},
      "encoding": {
        "x": {"field": "t", "type": "quantitative", "scale": {"domain": [-5.6, 158.6], "nice": false, "zero": false},
          "axis": {"values": [0,50,100,150], "title": "Time (months)", "titleFontSize": 30, "titleFontWeight": "normal", "titlePadding": 14, "labelFontSize": 27, "labelPadding": 10, "tickSize": 8, "tickWidth": 1.5, "domain": false, "labelFlush": false, "labelOverlap": false}},
        "y": {"field": "s", "type": "quantitative", "scale": {"domain": [-0.04, 1.04], "nice": false, "zero": false},
          "axis": {"values": [0,0.2,0.4,0.6,0.8,1], "format": ".1f", "labelAngle": -90, "labelAlign": "center", "labelBaseline": "bottom", "labelFontSize": 26, "labelPadding": 14, "tickSize": 8, "tickWidth": 1.5, "domain": false, "labelFlush": false, "labelOverlap": false, "title": "Probability", "titleFontSize": 30, "titleFontWeight": "normal", "titlePadding": 22}},
        "stroke": {"field": "e", "type": "nominal", "scale": {"domain": ["low","high"], "range": ["#1a1a1a","#ff0000"]},
          "legend": {"title": "Expression", "orient": "none", "legendX": 13.4, "legendY": 400.7, "symbolType": "M-2,0H2", "symbolSize": 576, "symbolStrokeWidth": 2, "symbolFillColor": "transparent", "symbolOffset": 22, "labelOffset": 37, "labelFontSize": 27, "titleFontSize": 27, "titleFontWeight": "normal", "titlePadding": 11, "rowPadding": 3}}
      }},
     {"data": {"name": "cens"}, "transform": [{"filter": "datum.p === 'MRP1'"}],
      "mark": {"type": "point", "shape": "M-1,0H1M0,-1V1", "size": 100, "strokeWidth": 1.4, "filled": false, "opacity": 1, "clip": true},
      "encoding": {"x": {"field": "t", "type": "quantitative"}, "y": {"field": "s", "type": "quantitative"},
        "color": {"field": "e", "type": "nominal", "scale": {"domain": ["low","high"], "range": ["#1a1a1a","#ff0000"]}, "legend": null}}},
     {"data": {"name": "notes"}, "transform": [{"filter": "datum.p === 'MRP1'"}],
      "mark": {"type": "text", "align": "center", "baseline": "middle", "fontSize": 25, "fontWeight": "bold", "color": "black"},
      "encoding": {"x": {"datum": 74.05}, "y": {"datum": 1.1185}, "text": {"field": "ttl"}}},
     {"data": {"name": "notes"}, "transform": [{"filter": "datum.p === 'MRP1'"}],
      "mark": {"type": "text", "align": "right", "baseline": "middle", "fontSize": 26, "color": "black"},
      "encoding": {"x": {"datum": 157.3}, "y": {"datum": 0.982}, "text": {"field": "hr"}}},
     {"data": {"name": "notes"}, "transform": [{"filter": "datum.p === 'MRP1'"}],
      "mark": {"type": "text", "align": "right", "baseline": "middle", "fontSize": 26, "color": "black"},
      "encoding": {"x": {"datum": 157.3}, "y": {"datum": 0.912}, "text": {"field": "lr"}}},
     {"data": {"name": "notes"}, "transform": [{"filter": "datum.p === 'MRP1'"}],
      "mark": {"type": "text", "align": "center", "baseline": "middle", "fontSize": 19, "fontWeight": "bold", "color": "black"},
      "encoding": {"x": {"datum": 7.8}, "y": {"datum": -0.241}, "text": {"field": "nar"}}},
     {"data": {"name": "risk"}, "transform": [{"filter": "datum.p === 'MRP1' && datum.e === 'low'"}],
      "mark": {"type": "text", "align": "center", "baseline": "middle", "fontSize": 20, "fontWeight": "bold", "color": "black"},
      "encoding": {"x": {"field": "t", "type": "quantitative"}, "y": {"datum": -0.3025}, "text": {"field": "n"}}},
     {"data": {"name": "risk"}, "transform": [{"filter": "datum.p === 'MRP1' && datum.e === 'high'"}],
      "mark": {"type": "text", "align": "center", "baseline": "middle", "fontSize": 20, "fontWeight": "bold", "color": "#ff0000"},
      "encoding": {"x": {"field": "t", "type": "quantitative"}, "y": {"datum": -0.351}, "text": {"field": "n"}}},
     {"data": {"name": "risk"}, "transform": [{"filter": "datum.p === 'MRP1' && datum.e === 'low' && datum.t === 0"}],
      "mark": {"type": "text", "align": "right", "baseline": "middle", "fontSize": 20, "fontWeight": "bold", "color": "black"},
      "encoding": {"x": {"datum": -11.5}, "y": {"datum": -0.3025}, "text": {"field": "e"}}},
     {"data": {"name": "risk"}, "transform": [{"filter": "datum.p === 'MRP1' && datum.e === 'high' && datum.t === 0"}],
      "mark": {"type": "text", "align": "right", "baseline": "middle", "fontSize": 20, "fontWeight": "bold", "color": "#ff0000"},
      "encoding": {"x": {"datum": -11.5}, "y": {"datum": -0.351}, "text": {"field": "e"}}}
   ]
  }
 ], "spacing": 153.3, "bounds": "flush",
 "resolve": {"scale": {"color": "independent", "fill": "independent", "stroke": "independent", "shape": "independent"}, "legend": {"color": "independent", "fill": "independent", "stroke": "independent", "shape": "independent"}}}
]
}
